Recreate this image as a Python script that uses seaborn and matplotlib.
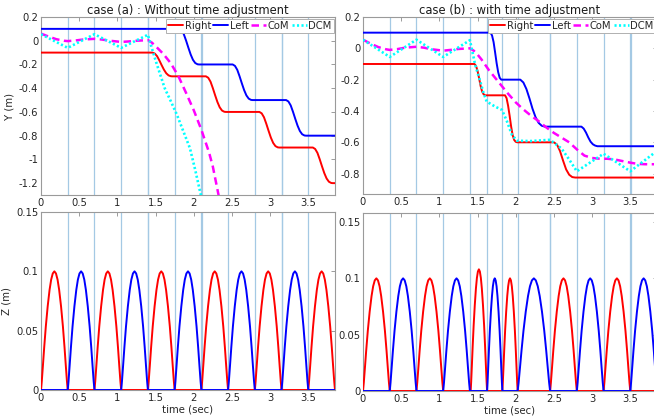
import numpy as np
import pandas as pd
import matplotlib
matplotlib.use("Agg")
import matplotlib.pyplot as plt
import seaborn as sns

# ---------------- data ----------------
# case (a): without time adjustment -- Y (m)
YA_RIGHT_T = [0, 1.46, 1.49, 1.52, 1.55, 1.58, 1.61, 1.64, 1.67, 1.70, 1.72,
              2.16, 2.19, 2.22, 2.25, 2.28, 2.31, 2.34, 2.37, 2.40, 2.42,
              2.86, 2.89, 2.92, 2.95, 2.98, 3.01, 3.04, 3.07, 3.10, 3.12,
              3.56, 3.59, 3.62, 3.65, 3.68, 3.71, 3.74, 3.77, 3.80, 3.82, 3.85]
YA_RIGHT = [-0.1, -0.1, -0.108, -0.13, -0.166, -0.206, -0.244, -0.274, -0.292, -0.299, -0.3,
            -0.3, -0.312, -0.345, -0.399, -0.459, -0.516, -0.561, -0.588, -0.5985, -0.6,
            -0.6, -0.612, -0.645, -0.699, -0.759, -0.816, -0.861, -0.888, -0.8985, -0.9,
            -0.9, -0.912, -0.945, -0.999, -1.059, -1.116, -1.161, -1.188, -1.1985, -1.2, -1.2]
YA_LEFT_T = [0, 1.81, 1.84, 1.87, 1.90, 1.93, 1.96, 1.99, 2.02, 2.05, 2.07,
             2.51, 2.54, 2.57, 2.60, 2.63, 2.66, 2.69, 2.72, 2.75, 2.77,
             3.21, 3.24, 3.27, 3.30, 3.33, 3.36, 3.39, 3.42, 3.45, 3.47, 3.85]
YA_LEFT = [0.1, 0.1, 0.088, 0.055, 0.001, -0.059, -0.116, -0.161, -0.188, -0.1985, -0.2,
           -0.2, -0.212, -0.245, -0.299, -0.359, -0.416, -0.461, -0.488, -0.4985, -0.5,
           -0.5, -0.512, -0.545, -0.599, -0.659, -0.716, -0.761, -0.788, -0.7985, -0.8, -0.8]
YA_COM_T = [0, 0.1, 0.2, 0.3, 0.35, 0.45, 0.55, 0.7, 0.8, 0.9, 1.05, 1.15, 1.25, 1.4,
            1.45, 1.5, 1.6, 1.7, 1.8, 1.9, 2.0, 2.1, 2.2, 2.25, 2.3, 2.35]
YA_COM = [0.06, 0.035, 0.013, 0.0, -0.003, 0.002, 0.01, 0.016, 0.01, 0.0, -0.01, -0.006, 0.0, 0.005,
          -0.015, -0.045, -0.11, -0.19, -0.3, -0.44, -0.585, -0.75, -0.94, -1.06, -1.22, -1.38]
YA_DCM_T = [0, 0.35, 0.7, 1.05, 1.4, 1.45, 1.5, 1.62, 1.7, 1.78, 1.85, 1.95, 2.02, 2.1]
YA_DCM = [0.055, -0.06, 0.055, -0.06, 0.05, -0.06, -0.165, -0.4, -0.51, -0.624, -0.74, -0.905, -1.09, -1.32]

# case (b): with time adjustment -- Y (m)
YB_RIGHT_T = [0, 1.46, 1.48, 1.50, 1.52, 1.54, 1.56, 1.58, 1.60,
              1.86, 1.88, 1.90, 1.92, 1.94, 1.96, 1.98, 2.00, 2.02,
              2.50, 2.54, 2.58, 2.62, 2.66, 2.70, 2.74, 2.78, 3.85]
YB_RIGHT = [-0.1, -0.1, -0.112, -0.144, -0.19, -0.24, -0.276, -0.294, -0.3,
            -0.3, -0.318, -0.366, -0.43, -0.5, -0.555, -0.585, -0.597, -0.6,
            -0.6, -0.614, -0.656, -0.717, -0.773, -0.807, -0.822, -0.825, -0.825]
YB_LEFT_T = [0, 1.67, 1.69, 1.71, 1.73, 1.75, 1.77, 1.79, 1.81,
             2.06, 2.10, 2.14, 2.18, 2.22, 2.26, 2.30, 2.34, 2.38,
             2.86, 2.89, 2.92, 2.95, 2.98, 3.01, 3.04, 3.07, 3.85]
YB_LEFT = [0.1, 0.1, 0.082, 0.04, -0.026, -0.095, -0.152, -0.188, -0.2,
           -0.2, -0.218, -0.26, -0.32, -0.386, -0.44, -0.476, -0.494, -0.5,
           -0.5, -0.5125, -0.5375, -0.569, -0.596, -0.6125, -0.621, -0.625, -0.625]
YB_COM_T = [0, 0.1, 0.2, 0.3, 0.35, 0.45, 0.55, 0.7, 0.8, 0.9, 1.05, 1.15, 1.25, 1.4,
            1.45, 1.5, 1.55, 1.6, 1.65, 1.7, 1.75, 1.8, 1.85, 1.9, 1.95, 2.0, 2.1, 2.2, 2.3,
            2.4, 2.5, 2.6, 2.7, 2.8, 2.9, 3.0, 3.1, 3.2, 3.3, 3.4, 3.5, 3.6, 3.7, 3.85]
YB_COM = [0.055, 0.03, 0.008, -0.006, -0.01, -0.005, 0.004, 0.01, 0.004, -0.006, -0.015, -0.01, -0.004, 0.0,
          -0.015, -0.04, -0.07, -0.105, -0.14, -0.17, -0.2, -0.23, -0.26, -0.29, -0.317, -0.345, -0.39, -0.43, -0.465,
          -0.505, -0.54, -0.57, -0.6, -0.645, -0.685, -0.7, -0.705, -0.705, -0.71, -0.72, -0.73, -0.738, -0.74, -0.74]
YB_DCM_T = [0, 0.35, 0.7, 1.05, 1.4, 1.47, 1.536, 1.58, 1.62, 1.73, 1.82, 1.886, 1.95, 2.016,
            2.2, 2.45, 2.6, 2.7, 2.8, 3.15, 3.5, 3.85]
YB_DCM = [0.055, -0.055, 0.055, -0.055, 0.052, -0.107, -0.213, -0.287, -0.34, -0.372, -0.393, -0.467, -0.552, -0.59,
          -0.592, -0.584, -0.64, -0.71, -0.785, -0.673, -0.785, -0.655]

# swing-foot height: measured normalised swing profile (phase -> height fraction)
SWING_PHASE = [0, .03, .07, .12, .18, .25, .32, .38, .44, .5, .56, .62, .68, .75, .82, .88, .93, .97, 1]
SWING_SHAPE = [0, .075, .2, .36, .535, .705, .843, .93, .982, 1, .982, .93, .843, .705, .535, .36, .2, .075, 0]

# swing phases (start s, end s, apex height m)
ZA_RIGHT_START = [0.0, 0.7, 1.4, 2.1, 2.8, 3.5]
ZA_RIGHT_END = [0.35, 1.05, 1.75, 2.45, 3.15, 3.85]
ZA_RIGHT_PEAK = [0.1, 0.1, 0.1, 0.1, 0.1, 0.1]
ZA_LEFT_START = [0.35, 1.05, 1.75, 2.45, 3.15]
ZA_LEFT_END = [0.7, 1.4, 2.1, 2.8, 3.5]
ZA_LEFT_PEAK = [0.1, 0.1, 0.1, 0.1, 0.1]
ZB_RIGHT_START = [0.0, 0.7, 1.41, 1.825, 2.45, 3.15]
ZB_RIGHT_END = [0.35, 1.05, 1.625, 2.025, 2.8, 3.5]
ZB_RIGHT_PEAK = [0.1, 0.1, 0.108, 0.1, 0.1, 0.1]
ZB_LEFT_START = [0.35, 1.05, 1.625, 2.025, 2.8, 3.5]
ZB_LEFT_END = [0.7, 1.4, 1.825, 2.45, 3.15, 3.85]
ZB_LEFT_PEAK = [0.1, 0.1, 0.1, 0.1, 0.1, 0.1]

# step-switch event times (s)
EVENTS_A = [0.35, 0.7, 1.05, 1.4, 1.405, 1.75, 2.1, 2.105, 2.45, 2.8, 3.15, 3.155, 3.5]
EVENTS_B = [0.35, 0.7, 1.05, 1.4, 1.625, 1.825, 2.025, 2.45, 2.455, 2.8, 3.15, 3.5, 3.505]

TITLES = ["case (a) : Without time adjustment", "case (b) : with time adjustment"]
LEGEND_LABELS = ["Right", "Left", "CoM", "DCM"]
X_TICKS = [0, 0.5, 1, 1.5, 2, 2.5, 3, 3.5]
X_TICK_LABELS = ["0", "0.5", "1", "1.5", "2", "2.5", "3", "3.5"]
YA_TICKS = [0.2, 0, -0.2, -0.4, -0.6, -0.8, -1, -1.2]
YA_TICK_LABELS = ["0.2", "0", "-0.2", "-0.4", "-0.6", "-0.8", "-1", "-1.2"]
YB_TICKS = [0.2, 0, -0.2, -0.4, -0.6, -0.8]
YB_TICK_LABELS = ["0.2", "0", "-0.2", "-0.4", "-0.6", "-0.8"]
Z_TICKS = [0, 0.05, 0.1, 0.15]
Z_TICK_LABELS = ["0", "0.05", "0.1", "0.15"]
T_END = 3.85


def swing_table(starts, ends, peaks):
    """Ground segments + each measured swing profile placed in its phase."""
    t, z = [0.0], [0.0]
    for s, e, p in zip(starts, ends, peaks):
        t += [s + f * (e - s) for f in SWING_PHASE]
        z += [p * h for h in SWING_SHAPE]
    t.append(T_END)
    z.append(0.0)
    return t, z


# ---------------- styling ----------------
sns.set_style("white")
plt.rcParams["font.family"] = ["DejaVu Sans"]

W, H = 654, 419
fig = plt.figure(figsize=(W / 100, H / 100), dpi=100)


def ax_at(l, t, r, b):
    return fig.add_axes([l / W, 1 - b / H, (r - l) / W, (b - t) / H])


ax_ya = ax_at(41, 17, 335, 195)
ax_yb = ax_at(363, 17, 657, 194)
ax_za = ax_at(41, 212, 335, 390)
ax_zb = ax_at(363, 213, 657, 391)

RED, BLUE, MAG, CYAN = "#ff0000", "#0000ff", "#ff00ff", "#00ffff"
EVT_COLOR = "#a4c9e4"


def draw(ax, t, y, color, lw, dashes=None, z=3):
    df = pd.DataFrame({"t": t, "v": y})
    sns.lineplot(data=df, x="t", y="v", ax=ax, color=color, linewidth=lw,
                 estimator=None, sort=False, legend=False)
    ln = ax.lines[-1]
    ln.set_zorder(z)
    ln.set_solid_joinstyle("round")
    if dashes is not None:
        ln.set_dashes(dashes)
    return ln


def style_axes(ax, ylim, yticks, ylabels, events):
    for e in events:
        ax.axvline(e, color=EVT_COLOR, lw=0.9, zorder=1)
    ax.set_xlim(0, T_END)
    ax.set_ylim(*ylim)
    ax.set_xticks(X_TICKS)
    ax.set_xticklabels(X_TICK_LABELS)
    ax.set_yticks(yticks)
    ax.set_yticklabels(ylabels)
    ax.tick_params(direction="in", top=True, right=True, length=3, width=0.6,
                   color="#8c8c8c", labelcolor="#262626", labelsize=7.2, pad=2)
    for s in ax.spines.values():
        s.set_color("#9a9a9a")
        s.set_linewidth(0.8)
    ax.set_xlabel("")
    ax.set_ylabel("")


# top panels
for ax, rt, r, lt, l, ct, c, dt, d, title in [
        (ax_ya, YA_RIGHT_T, YA_RIGHT, YA_LEFT_T, YA_LEFT, YA_COM_T, YA_COM, YA_DCM_T, YA_DCM, TITLES[0]),
        (ax_yb, YB_RIGHT_T, YB_RIGHT, YB_LEFT_T, YB_LEFT, YB_COM_T, YB_COM, YB_DCM_T, YB_DCM, TITLES[1])]:
    h1 = draw(ax, rt, r, RED, 1.4)
    h2 = draw(ax, lt, l, BLUE, 1.4)
    h3 = draw(ax, ct, c, MAG, 1.8, dashes=(3.0, 1.8), z=4)
    h4 = draw(ax, dt, d, CYAN, 1.9, dashes=(0.8, 0.9), z=5)
    ax.set_title(title, fontsize=8.3, color="#1a1a1a", pad=2.5)
    leg = ax.legend([h1, h2, h3, h4], LEGEND_LABELS, ncol=4, loc="upper right",
                    bbox_to_anchor=(1.0, 1.0), borderaxespad=0.15, fontsize=7.2,
                    handlelength=1.5, handletextpad=0.15, columnspacing=0.25,
                    borderpad=0.2, fancybox=False, framealpha=1, edgecolor="#b0b0b0")
    leg.get_frame().set_linewidth(0.7)
    leg.set_zorder(10)

style_axes(ax_ya, (-1.3, 0.2), YA_TICKS, YA_TICK_LABELS, EVENTS_A)
style_axes(ax_yb, (-0.93, 0.2), YB_TICKS, YB_TICK_LABELS, EVENTS_B)
ax_ya.set_ylabel("Y (m)", fontsize=7.3, color="#262626", labelpad=3)

# bottom panels
for ax, (rs, re_, rp), (ls, le, lp) in [
        (ax_za, (ZA_RIGHT_START, ZA_RIGHT_END, ZA_RIGHT_PEAK), (ZA_LEFT_START, ZA_LEFT_END, ZA_LEFT_PEAK)),
        (ax_zb, (ZB_RIGHT_START, ZB_RIGHT_END, ZB_RIGHT_PEAK), (ZB_LEFT_START, ZB_LEFT_END, ZB_LEFT_PEAK))]:
    tr, zr = swing_table(rs, re_, rp)
    tl, zl = swing_table(ls, le, lp)
    draw(ax, tr, zr, RED, 1.4)
    draw(ax, tl, zl, BLUE, 1.4)

style_axes(ax_za, (0, 0.15), Z_TICKS, Z_TICK_LABELS, EVENTS_A)
style_axes(ax_zb, (0, 0.158), Z_TICKS, Z_TICK_LABELS, EVENTS_B)
ax_za.set_ylabel("Z (m)", fontsize=7.3, color="#262626", labelpad=3)
for ax in (ax_za, ax_zb):
    ax.set_xlabel("time (sec)", fontsize=7.3, color="#262626", labelpad=1)

fig.savefig("out.png", dpi=100)
